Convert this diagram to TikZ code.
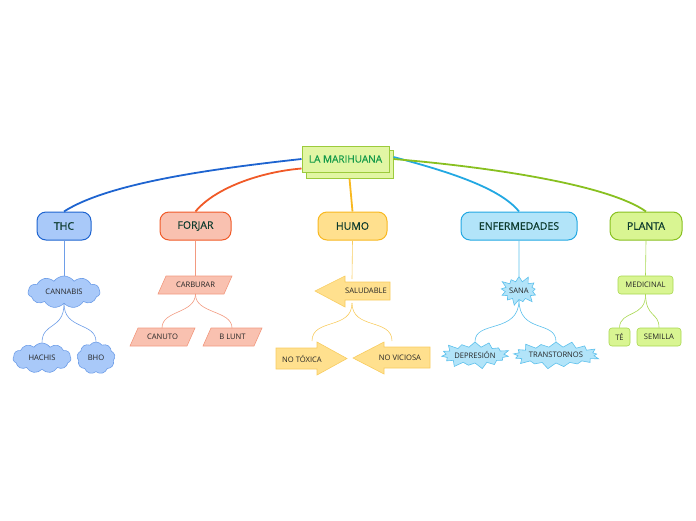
\documentclass[tikz,border=0pt]{standalone}
\usepackage{fontspec}
\setmainfont{Open Sans}
\newfontfamily\heavyfont[FakeBold=0.6]{Open Sans}
\usetikzlibrary{shapes.symbols,shapes.geometric}
\definecolor{txtmain}{HTML}{0D3B2E}
\definecolor{txtsub}{HTML}{262626}
\definecolor{rootfill}{HTML}{E2F6A4}
\definecolor{rootline}{HTML}{9CCB3C}
\definecolor{roottxt}{HTML}{139A48}
\definecolor{thcfill}{HTML}{A9C9F9}
\definecolor{thcline}{HTML}{1E64D0}
\definecolor{thclight}{HTML}{6E9EE8}
\definecolor{forfill}{HTML}{F9C1B0}
\definecolor{forline}{HTML}{F05A28}
\definecolor{forlight}{HTML}{F29A80}
\definecolor{humfill}{HTML}{FFE08E}
\definecolor{humline}{HTML}{F8B820}
\definecolor{humlight}{HTML}{F8CC60}
\definecolor{enffill}{HTML}{B2E4F9}
\definecolor{enfline}{HTML}{22A8E2}
\definecolor{enflight}{HTML}{5CC0EC}
\definecolor{plafill}{HTML}{D9F592}
\definecolor{plaline}{HTML}{88C020}
\definecolor{plalight}{HTML}{A8D850}
\tikzset{
  mainbox/.style={rounded corners=9pt, line width=1pt, minimum height=28pt, inner sep=0pt,
    font=\heavyfont\fontsize{10.5}{12}\selectfont, text=txtmain},
  subtxt/.style={font=\fontsize{7.6}{8}\selectfont, text=txtsub, inner sep=0pt},
  cloudbox/.style={cloud, cloud puffs=11, cloud puff arc=110, cloud ignores aspect, draw=thclight, fill=thcfill, line width=0.6pt, subtxt},
  paraedge/.style={draw=forlight, fill=forfill, line width=0.6pt},
  starbox/.style={starburst, starburst points=13, starburst point height=7pt, draw=enflight, fill=enffill, line width=0.6pt, subtxt},
  greenbox/.style={rounded corners=3pt, draw=plalight, fill=plafill, line width=0.6pt, subtxt, minimum height=18pt},
  arrowbody/.style={fill=humfill, draw=humlight, line width=0.6pt, line join=miter},
}
\begin{document}
\begin{tikzpicture}[x=1pt,y=-1pt]
\useasboundingbox (0,0) rectangle (696,520);
% root
\filldraw[fill=rootfill, draw=rootline, line width=1pt] (306,150) rectangle (393,178);
\node[draw=rootline, fill=rootfill, line width=1pt, minimum width=87pt, minimum height=26pt, inner sep=0pt,
  font=\heavyfont\fontsize{10}{12}\selectfont, text=roottxt] (root) at (345.5,159) {LA MARIHUANA};
% main topics
\node[mainbox, draw=thcline, fill=thcfill, minimum width=54pt] (thc) at (64,226) {THC};
\node[mainbox, draw=forline, fill=forfill, minimum width=71pt] (forjar) at (195.5,226) {FORJAR};
\node[mainbox, draw=humline, fill=humfill, minimum width=69pt] (humo) at (352.5,226) {HUMO};
\node[mainbox, draw=enfline, fill=enffill, minimum width=116pt] (enf) at (519,226) {ENFERMEDADES};
\node[mainbox, draw=plaline, fill=plafill, minimum width=72pt] (planta) at (646,226) {PLANTA};
% root connectors
\begin{scope}[line width=1.8pt]
\draw[thcline] (root.west) .. controls (220,168) and (110,182) .. (thc.north);
\draw[forline] ([yshift=4pt]root.south west) .. controls (260,172) and (215,188) .. (forjar.north);
\draw[humline] (root.south) ++(4,6) -- (humo.north);
\draw[enfline] ([xshift=4pt,yshift=2pt]root.east) .. controls (450,172) and (500,188) .. (enf.north);
\draw[plaline] ([xshift=4pt]root.east) .. controls (500,168) and (610,186) .. (planta.north);
\end{scope}
% THC branch
\node[cloudbox, minimum width=72pt, minimum height=32pt] (cannabis) at (64,292) {CANNABIS};
\node[cloudbox, minimum width=58pt, minimum height=30pt] (hachis) at (42,358) {HACHIS};
\node[cloudbox, cloud puffs=9, minimum width=38pt, minimum height=32pt] (bho) at (96,358) {BHO};
\draw[thclight, line width=0.6pt] (thc.south) -- (cannabis.north);
\draw[thclight, line width=0.6pt] (cannabis.south) .. controls (64,330) and (42,322) .. (hachis.north);
\draw[thclight, line width=0.6pt] (cannabis.south) .. controls (64,330) and (96,322) .. (bho.north);
% FORJAR branch
\filldraw[paraedge] (166,276) -- (232,276) -- (224,294) -- (158,294) -- cycle;
\node[subtxt] (carb) at (195.5,285) {CARBURAR};
\filldraw[paraedge] (138,328) -- (195,328) -- (187,346) -- (130,346) -- cycle;
\node[subtxt] (canuto) at (162.5,337) {CANUTO};
\filldraw[paraedge] (211,328) -- (262,328) -- (254,346) -- (203,346) -- cycle;
\node[subtxt] (blunt) at (232.5,337) {B LUNT};
\coordinate (carbtop) at (195.5,276);
\coordinate (carbbot) at (195.5,294);
\coordinate (canutotop) at (162,328);
\coordinate (blunttop) at (232,328);
\draw[forlight, line width=0.6pt] (forjar.south) -- (carbtop);
\draw[forlight, line width=0.6pt] (carbbot) .. controls (195,314) and (162,310) .. (canutotop);
\draw[forlight, line width=0.6pt] (carbbot) .. controls (195,314) and (232,310) .. (blunttop);
% HUMO branch
\filldraw[arrowbody] (315,291) -- (345,276) -- (345,282) -- (390,282) -- (390,300) -- (345,300) -- (345,307) -- cycle;
\node[subtxt] (salud) at (366,291) {SALUDABLE};
\coordinate (saludtop) at (352,279);
\coordinate (saludbot) at (352,303);
\filldraw[arrowbody] (276,348) -- (317,348) -- (317,342) -- (347,358.5) -- (317,375) -- (317,369) -- (276,369) -- cycle;
\node[subtxt] (notox) at (302,358.5) {NO TÓXICA};
\filldraw[arrowbody] (353,358) -- (384,342) -- (384,347) -- (430,347) -- (430,368) -- (384,368) -- (384,374) -- cycle;
\node[subtxt] (novic) at (400,357.5) {NO VICIOSA};
\coordinate (notoxtop) at (312,341);
\coordinate (novictop) at (392,341);
\draw[humlight, line width=0.6pt] (humo.south) -- (saludtop);
\draw[humlight, line width=0.6pt] (saludbot) .. controls (352,330) and (312,318) .. (notoxtop);
\draw[humlight, line width=0.6pt] (saludbot) .. controls (352,330) and (392,318) .. (novictop);
% ENFERMEDADES branch
\node[starbox, minimum width=38pt, minimum height=32pt] (sana) at (519,290.5) {SANA};
\node[starbox, starburst points=15, minimum width=64pt, minimum height=30pt] (depr) at (475,355) {DEPRESIÓN};
\node[starbox, starburst points=17, minimum width=80pt, minimum height=30pt] (trans) at (556,355) {TRANSTORNOS};
\draw[enflight, line width=0.6pt] (enf.south) -- (sana.north);
\draw[enflight, line width=0.6pt] (sana.south) .. controls (519,334) and (475,320) .. (depr.north);
\draw[enflight, line width=0.6pt] (sana.south) .. controls (519,334) and (556,320) .. (trans.north);
% PLANTA branch
\node[greenbox, minimum width=55pt] (medic) at (645.5,285) {MEDICINAL};
\node[greenbox, minimum width=21pt] (te) at (619.5,337) {TÉ};
\node[greenbox, minimum width=44pt] (semilla) at (659,337) {SEMILLA};
\draw[plalight, line width=0.6pt] (planta.south) -- (medic.north);
\draw[plalight, line width=0.6pt] (medic.south) .. controls (646,318) and (620,310) .. (te.north);
\draw[plalight, line width=0.6pt] (medic.south) .. controls (646,318) and (659,312) .. (semilla.north);
\end{tikzpicture}
\end{document}
